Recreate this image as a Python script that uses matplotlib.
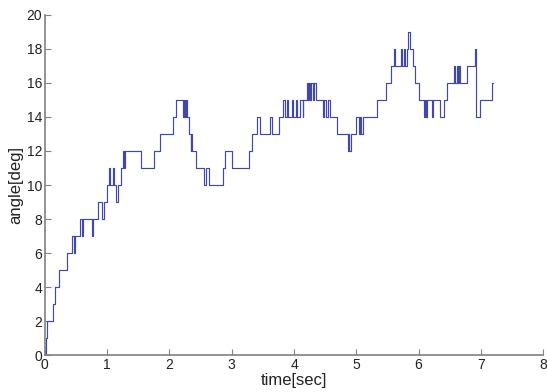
import matplotlib
matplotlib.use("Agg")
import matplotlib.pyplot as plt

# change points of the step signal: time [sec] and angle [deg]
time_sec = [0.00, 0.02, 0.04, 0.13, 0.17, 0.22, 0.35, 0.43, 0.47, 0.49,
            0.56, 0.60, 0.62, 0.75, 0.77, 0.85, 0.92, 0.95, 0.99, 1.03,
            1.05, 1.09, 1.11, 1.14, 1.17, 1.22, 1.25, 1.27, 1.28, 1.55,
            1.76, 1.85, 2.06, 2.10, 2.22, 2.23, 2.25, 2.26, 2.28, 2.32,
            2.34, 2.35, 2.37, 2.42, 2.56, 2.58, 2.64, 2.86, 2.90, 3.01,
            3.28, 3.32, 3.40, 3.46, 3.62, 3.64, 3.76, 3.83, 3.85, 3.88,
            3.90, 3.96, 3.98, 4.03, 4.05, 4.10, 4.14, 4.15, 4.21, 4.22,
            4.24, 4.26, 4.28, 4.30, 4.32, 4.35, 4.46, 4.48, 4.52, 4.54,
            4.58, 4.69, 4.86, 4.88, 4.89, 4.92, 4.99, 5.04, 5.06, 5.08,
            5.11, 5.34, 5.48, 5.56, 5.60, 5.62, 5.72, 5.74, 5.76, 5.78,
            5.81, 5.83, 5.87, 5.91, 5.95, 6.00, 6.09, 6.10, 6.12, 6.14,
            6.21, 6.23, 6.35, 6.40, 6.45, 6.57, 6.59, 6.61, 6.63, 6.65,
            6.66, 6.78, 6.90, 6.92, 6.99, 7.18, 7.19]
angle_deg = [0, 1, 2, 3, 4, 5, 6, 7, 6, 7,
             8, 7, 8, 7, 8, 9, 8, 9, 10, 11,
             10, 11, 10, 9, 10, 11, 12, 11, 12, 11,
             12, 13, 14, 15, 14, 15, 14, 15, 14, 13,
             12, 13, 12, 11, 10, 11, 10, 11, 12, 11,
             12, 13, 14, 13, 14, 13, 14, 15, 14, 15,
             14, 15, 14, 15, 14, 15, 14, 15, 16, 15,
             16, 15, 16, 15, 16, 15, 14, 15, 14, 15,
             14, 13, 12, 13, 12, 13, 14, 13, 14, 13,
             14, 15, 16, 17, 18, 17, 18, 17, 18, 17,
             18, 19, 18, 17, 16, 15, 14, 15, 14, 15,
             14, 15, 14, 15, 16, 17, 16, 17, 16, 17,
             16, 17, 18, 14, 15, 16, 16]

x_ticks = [0, 1, 2, 3, 4, 5, 6, 7, 8]
y_ticks = [0, 2, 4, 6, 8, 10, 12, 14, 16, 18, 20]

plt.rcParams['font.family'] = ['Liberation Sans', 'DejaVu Sans']

fig = plt.figure(figsize=(5.47, 3.92), dpi=100)
ax = fig.add_axes([0.082, 0.094, 0.911, 0.868])

ax.plot(time_sec, angle_deg, drawstyle="steps-post", color="#4048b0", linewidth=0.85)

ax.set_xlim(0, 8)
ax.set_ylim(0, 20)
ax.set_xticks(x_ticks)
ax.set_yticks(y_ticks)

for side in ["top", "right"]:
    ax.spines[side].set_visible(False)
for side in ["left", "bottom"]:
    ax.spines[side].set_color("#808080")
    ax.spines[side].set_linewidth(1.2)

ax.tick_params(direction="in", length=4, width=0.8, color="#808080",
               labelsize=10, labelcolor="#222222", pad=2)

ax.set_xlabel("time[sec]", fontsize=12, labelpad=1, color="#222222")
ax.set_ylabel("angle[deg]", fontsize=12, labelpad=2, color="#222222")

fig.savefig("out.png", dpi=100)
